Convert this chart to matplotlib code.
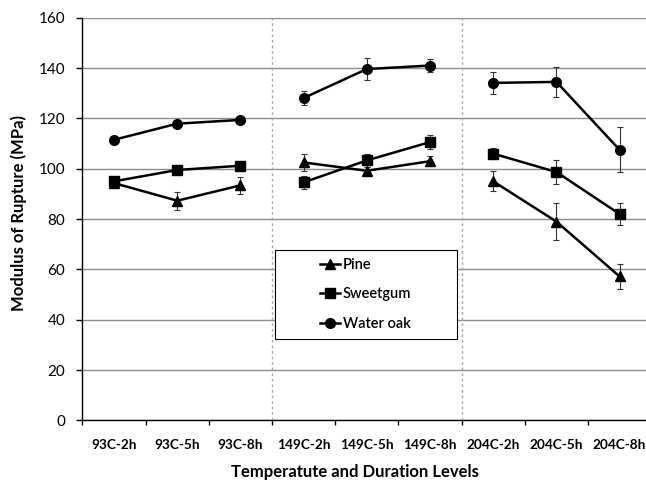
import numpy as np
import matplotlib
matplotlib.use("Agg")
import matplotlib.pyplot as plt
from matplotlib.lines import Line2D
from matplotlib.patches import Rectangle

plt.rcParams["font.family"] = ["Lato", "DejaVu Sans"]

# Data
levels = ["93C-2h", "93C-5h", "93C-8h", "149C-2h", "149C-5h", "149C-8h",
          "204C-2h", "204C-5h", "204C-8h"]
pine = [94.3, 87.3, 93.4, 102.5, 99.2, 103.0, 95.0, 79.0, 57.2]
pine_err = [1.5, 3.5, 3.5, 3.5, 1.5, 2.0, 4.0, 7.3, 4.8]
sweetgum = [95.0, 99.5, 101.2, 94.6, 103.3, 110.6, 106.0, 98.7, 82.0]
sweetgum_err = [1.8, 1.0, 1.0, 2.6, 2.5, 2.8, 2.3, 4.8, 4.5]
water_oak = [111.5, 117.9, 119.4, 128.1, 139.6, 141.0, 134.1, 134.5, 107.5]
water_oak_err = [1.0, 1.0, 1.0, 2.6, 4.3, 2.6, 4.4, 6.0, 8.9]

# each temperature is its own connected segment
groups = [(0, 3), (3, 6), (6, 9)]

fig = plt.figure(figsize=(6.46, 4.82), dpi=100)
ax = fig.add_axes([0.1276, 0.1276, 0.8805, 0.8357])

x = np.arange(len(levels))
series = [
    ("Pine", pine, pine_err, "^"),
    ("Sweetgum", sweetgum, sweetgum_err, "s"),
    ("Water oak", water_oak, water_oak_err, "o"),
]
handles = []
for name, vals, errs, mk in series:
    vals = np.asarray(vals)
    errs = np.asarray(errs)
    for a, b in groups:
        ax.errorbar(x[a:b], vals[a:b], yerr=errs[a:b], color="black", lw=1.8,
                    marker=mk, ms=7, capsize=2.5, elinewidth=0.8, capthick=0.8,
                    ecolor="#333333", zorder=3)
    handles.append(Line2D([], [], color="black", lw=1.8, marker=mk, ms=7, label=name))

ax.set_xlim(-0.5, 8.5)
ax.set_ylim(0, 160)
ax.set_yticks(np.arange(0, 161, 20))
ax.yaxis.grid(True, color="#8c8c8c", lw=1.0)
ax.set_axisbelow(True)
for b in (2.5, 5.5):
    ax.axvline(b, color="#aaaaaa", lw=1.0, ls=(0, (2, 2)), zorder=1)

ax.set_xticks(x)
ax.set_xticklabels(levels, fontsize=9.8, fontweight="bold")
ax.set_xticks(np.arange(-0.5, 9, 1), minor=True)
ax.tick_params(axis="x", which="major", length=0, pad=13.5)
ax.tick_params(axis="x", which="minor", length=3.5, width=1)
ax.tick_params(axis="y", length=4.5, width=1, labelsize=11, pad=8)

for side in ("top", "right"):
    ax.spines[side].set_visible(False)
for side in ("left", "bottom"):
    ax.spines[side].set_linewidth(1.0)

ax.set_ylabel("Modulus of Rupture (MPa)", fontsize=12, fontweight="bold")
ax.yaxis.set_label_coords(-0.097, 0.514)
ax.set_xlabel("Temperatute and Duration Levels", fontsize=12, fontweight="bold")
ax.xaxis.set_label_coords(0.479, -0.109)

# legend: fixed frame, frameless entries inside it
ax.add_patch(Rectangle((0.3386, 0.2023), 0.32, 0.221, transform=ax.transAxes,
                       facecolor="white", edgecolor="black", lw=0.8, zorder=4))
leg = ax.legend(handles=handles, loc="upper left", bbox_to_anchor=(0.4177, 0.4034),
                frameon=False, handlelength=1.37, handletextpad=0.2,
                labelspacing=1.05, borderpad=0, borderaxespad=0,
                prop={"weight": "semibold", "size": 10.5})
leg.set_zorder(5)

fig.savefig("out.png", dpi=100)
